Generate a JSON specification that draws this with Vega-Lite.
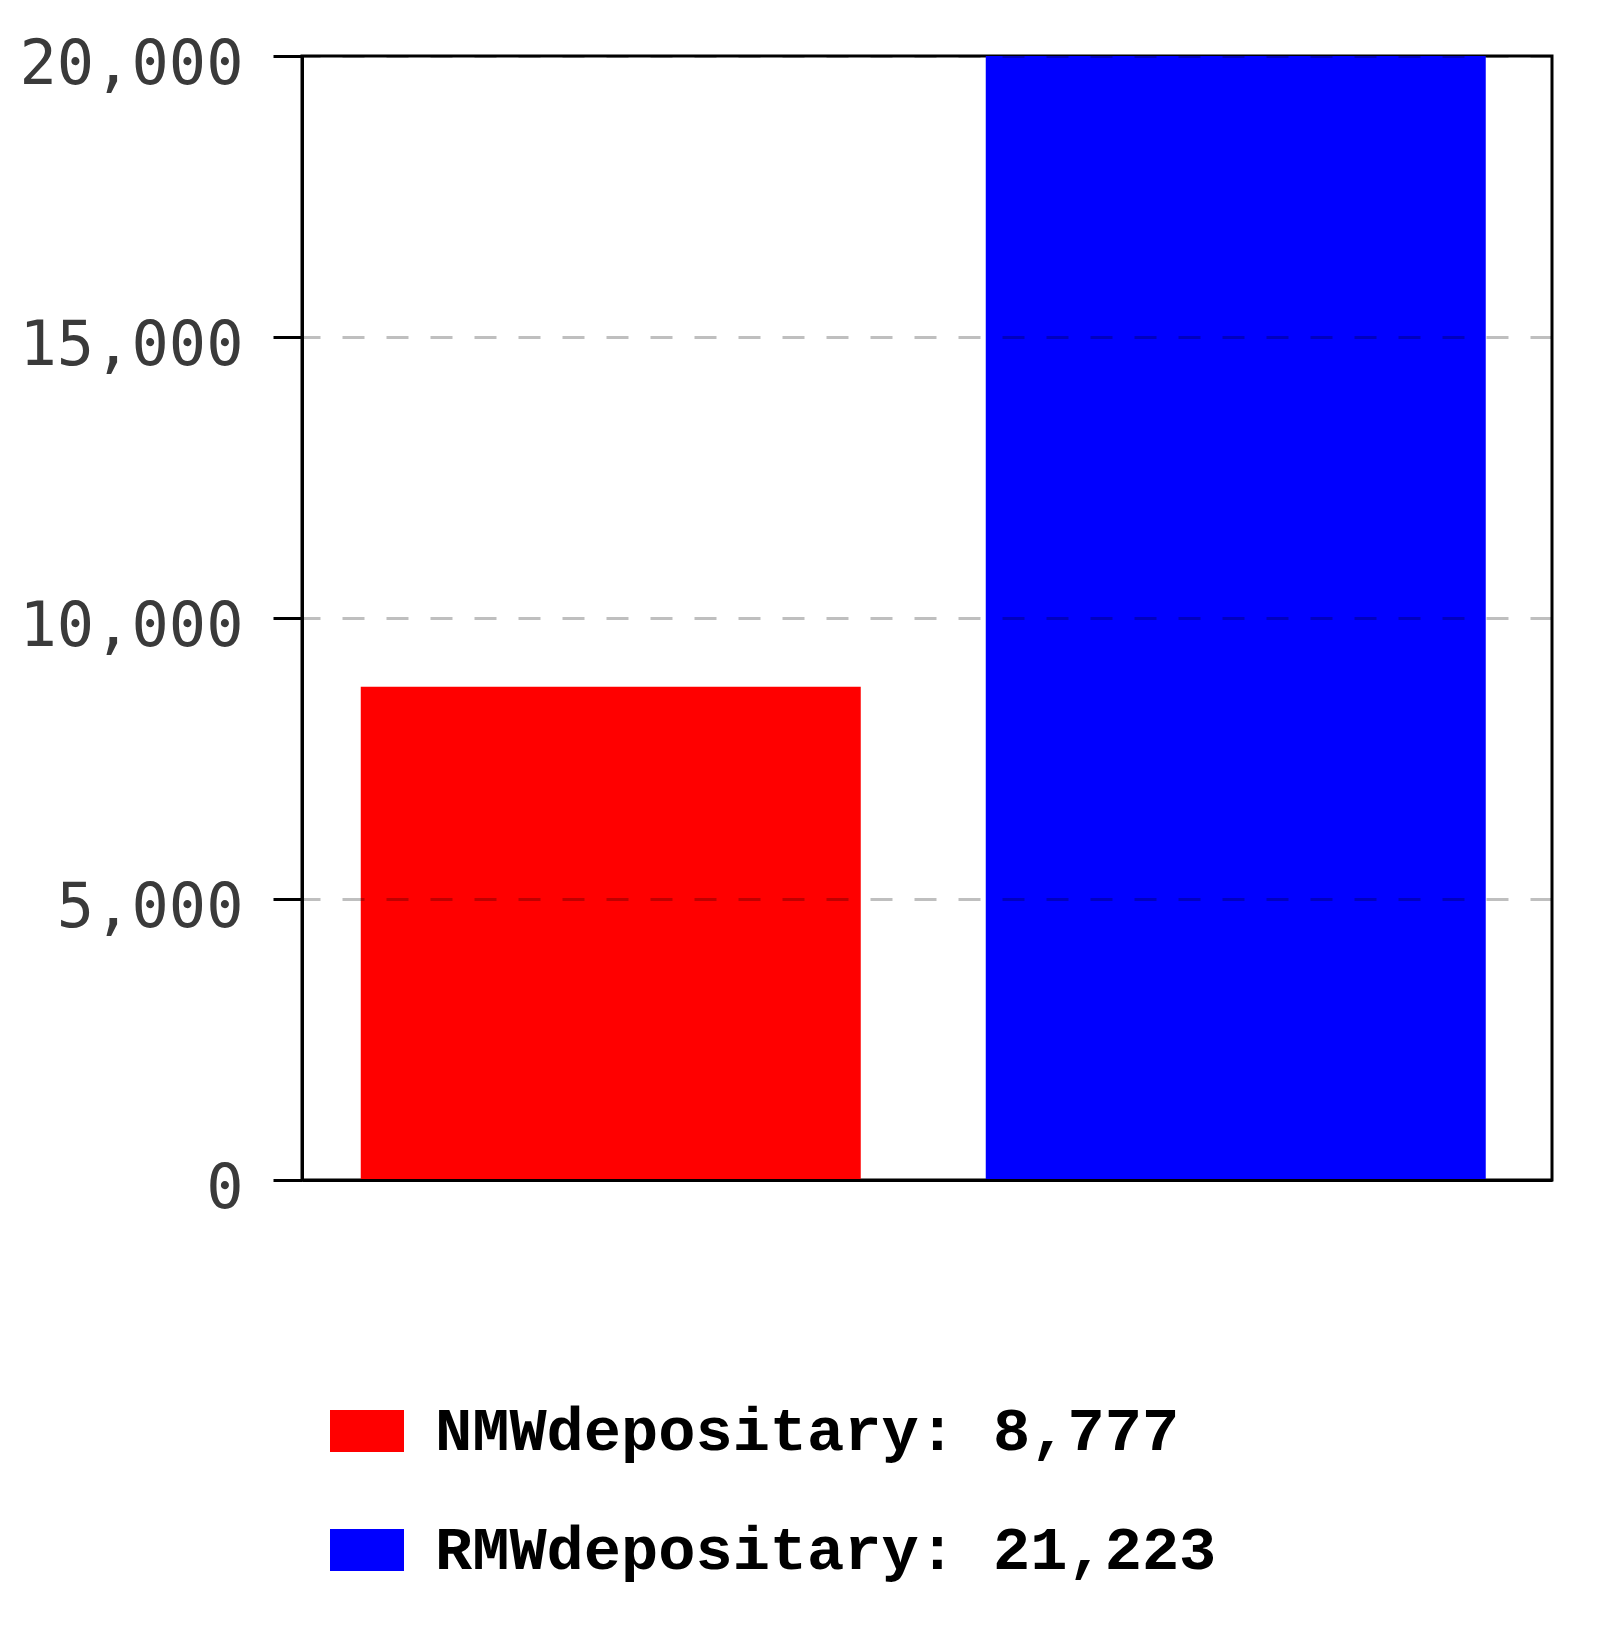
{
  "$schema": "https://vega.github.io/schema/vega-lite/v6.json",
  "autosize": {"type": "none"},
  "padding": {"left": 302, "top": 56, "right": 46, "bottom": 451},
  "width": 1250,
  "height": 1124,
  "background": "white",
  "config": {"view": {"stroke": "black", "strokeWidth": 3}},
  "data": {"values": [
    {"series": "NMWdepositary: 8,777", "value": 8777},
    {"series": "RMWdepositary: 21,223", "value": 21223}
  ]},
  "mark": {"type": "bar", "clip": true},
  "encoding": {
    "x": {"field": "series", "type": "nominal", "sort": null,
      "scale": {"paddingInner": 0.2, "paddingOuter": 0.1, "align": 0.47},
      "axis": {"labels": false, "ticks": false, "title": null, "domain": true, "domainColor": "black", "domainWidth": 3, "zindex": 1}},
    "y": {"field": "value", "type": "quantitative",
      "scale": {"domain": [0, 20000], "nice": false},
      "axis": {"values": [0, 5000, 10000, 15000, 20000], "format": ",.0f", "title": null,
        "grid": true, "gridColor": "black", "gridOpacity": 0.25, "gridDash": [22, 22], "gridDashOffset": 4, "gridWidth": 3,
        "domainColor": "black", "domainWidth": 3, "tickColor": "black", "tickWidth": 3, "tickSize": 29,
        "labelFont": "DejaVu Sans Mono", "labelFontSize": 62, "labelColor": "#3a3a3a", "labelPadding": 30, "labelOffset": 8, "labelLimit": 0, "zindex": 1}},
    "color": {"field": "series", "type": "nominal", "sort": null,
      "scale": {"range": ["#ff0000", "#0000ff"]},
      "legend": {"orient": "none", "legendX": 28, "legendY": 1338, "title": null, "padding": 0,
        "symbolType": "M-1,-0.567H1V0.567H-1Z", "symbolSize": 5476, "symbolStrokeWidth": 0, "symbolOpacity": 1,
        "labelFont": "Liberation Mono", "labelFontWeight": "bold", "labelFontSize": 62, "labelColor": "black",
        "labelLimit": 0, "labelOffset": 31, "rowPadding": 51}}
  }
}
